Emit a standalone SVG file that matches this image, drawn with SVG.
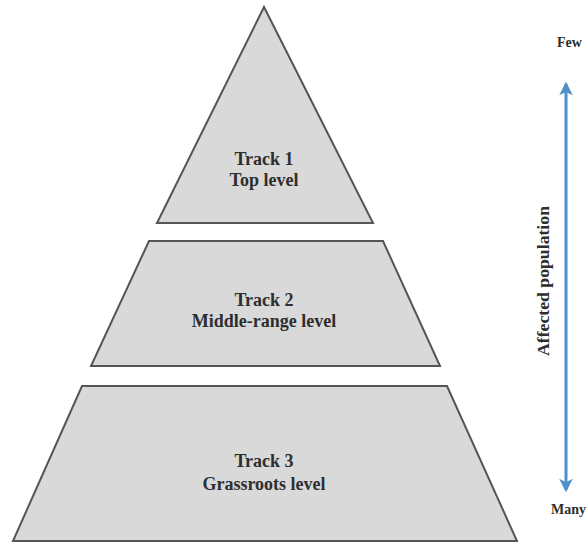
<svg xmlns="http://www.w3.org/2000/svg" width="586" height="544" viewBox="0 0 586 544">
  <style>
    .tier { fill: #d9d9d9; stroke: #555555; stroke-width: 2; stroke-linejoin: miter; }
    .lbl { font-family: "Liberation Serif", "Times New Roman", serif; font-weight: bold; font-size: 18px; fill: #2e2e2e; text-anchor: middle; }
    .side { font-family: "Liberation Serif", "Times New Roman", serif; font-weight: bold; fill: #2e2e2e; }
    .axis { stroke: #4f8fca; stroke-width: 3; fill: none; }
  </style>
  <defs>
    <marker id="ah" viewBox="0 0 12 12" refX="10" refY="6" markerWidth="4.5" markerHeight="4.5" orient="auto-start-reverse" markerUnits="strokeWidth">
      <path d="M0,0 L12,6 L0,12 L3,6 Z" fill="#4f8fca"/>
    </marker>
  </defs>
  <rect width="586" height="544" fill="#ffffff"/>

  <g id="track1">
    <polygon class="tier" points="264,7 373,223 157,223"/>
    <text class="lbl" x="264" y="165">Track 1</text>
    <text class="lbl" x="264" y="186">Top level</text>
  </g>

  <g id="track2">
    <polygon class="tier" points="149,241 383,241 440,366 91,366"/>
    <text class="lbl" x="264" y="306">Track 2</text>
    <text class="lbl" x="264" y="327">Middle-range level</text>
  </g>

  <g id="track3">
    <polygon class="tier" points="82,386 447,386 517,541 13,541"/>
    <text class="lbl" x="264" y="467">Track 3</text>
    <text class="lbl" x="264" y="490">Grassroots level</text>
  </g>

  <g id="connectors">
    <line class="axis" x1="566" y1="84" x2="566" y2="490" marker-start="url(#ah)" marker-end="url(#ah)"/>
  </g>

  <g id="axis-labels">
    <text class="side" x="557" y="47" font-size="14">Few</text>
    <text class="side" x="586" y="514" font-size="14" text-anchor="end">Many</text>
    <text class="side" x="0" y="0" font-size="16" text-anchor="middle" textLength="150" lengthAdjust="spacingAndGlyphs" transform="translate(549,281) rotate(-90)">Affected population</text>
  </g>
</svg>
